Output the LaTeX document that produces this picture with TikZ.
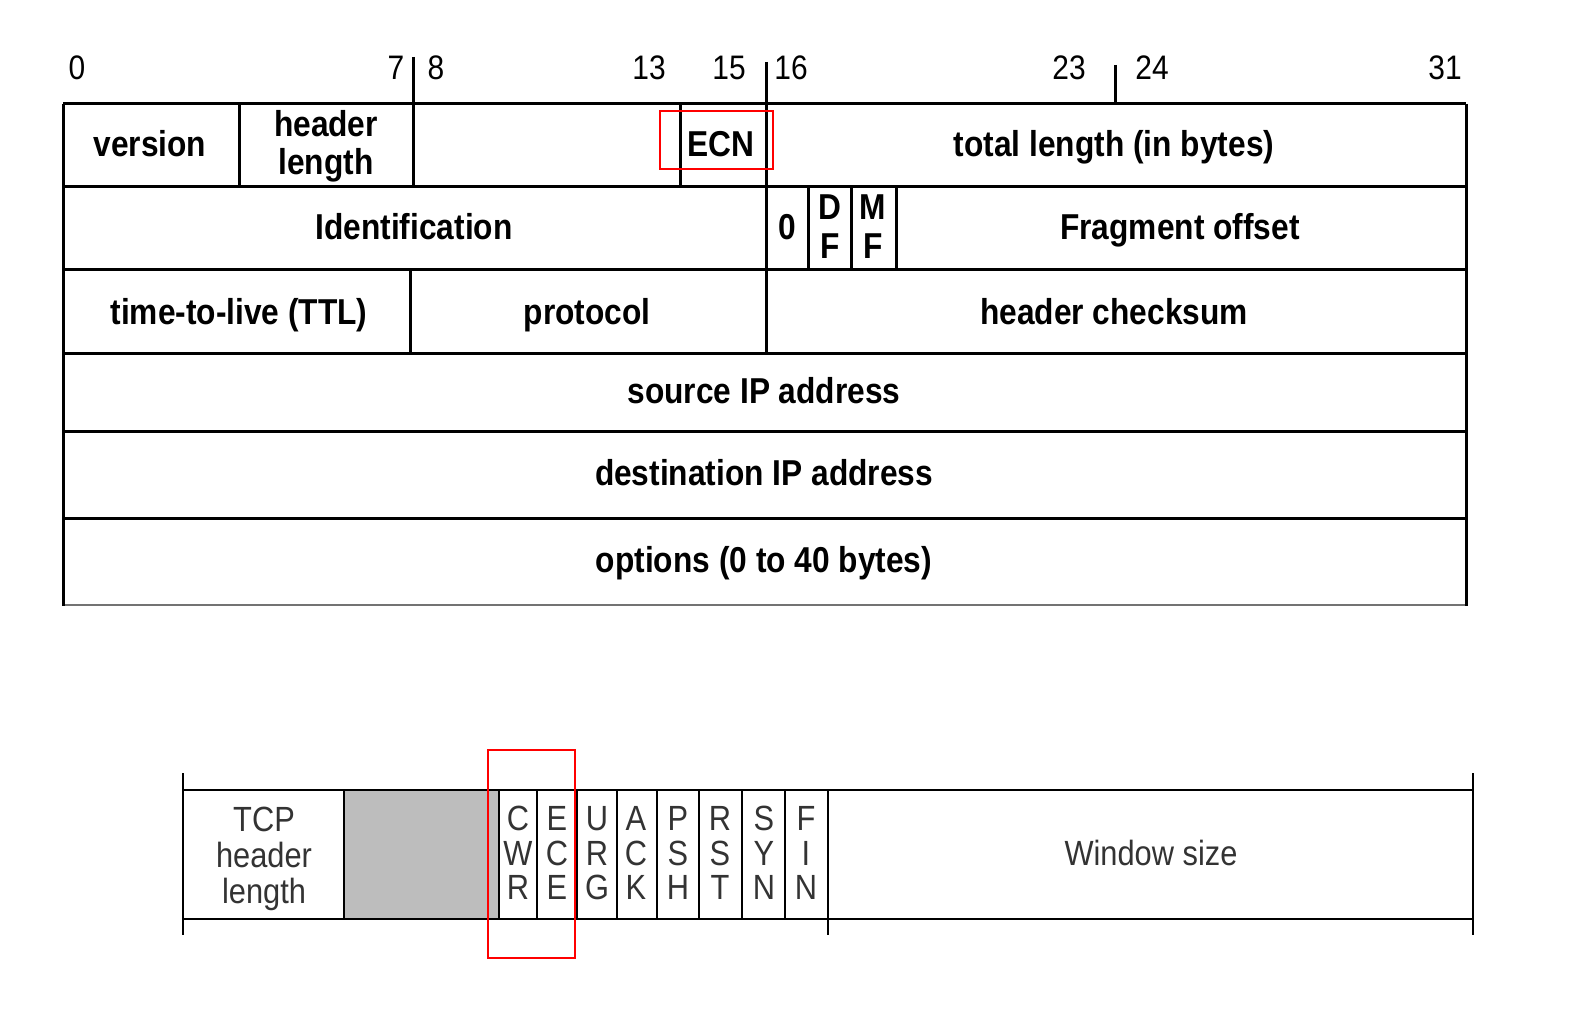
\documentclass[tikz,border=0pt]{standalone}
\usepackage{fontspec}
\setmainfont{Liberation Sans}
\newfontfamily\hdr[FakeStretch=0.88]{Liberation Sans}
\definecolor{cellgrey}{HTML}{BDBDBD}
\definecolor{tcptext}{HTML}{333333}
\begin{document}
\begin{tikzpicture}[x=0.5pt,y=-0.5pt,
  lbl/.style={font=\hdr\bfseries\fontsize{18}{19}\selectfont, inner sep=0pt, text height=13pt, text depth=0pt},
  num/.style={font=\hdr\fontsize{17}{18}\selectfont, inner sep=0pt, text height=12.2pt, text depth=0pt},
  tcp/.style={font=\hdr\fontsize{17.5}{19}\selectfont, text=tcptext, inner sep=0pt, text height=12.5pt, text depth=0pt},
  grid/.style={line width=1.5pt},
  tgrid/.style={line width=1.2pt},
  hl/.style={draw=red, line width=1pt}]
\useasboundingbox (0,0) rectangle (1592,1010);

% ---------- IP header ----------
% bit numbers
\node[num] (n0)  at (77,67)   {0};
\node[num] (n7)  at (396,67)  {7};
\node[num] (n8)  at (436,67)  {8};
\node[num] (n13) at (649,67)  {13};
\node[num] (n15) at (729,67)  {15};
\node[num] (n16) at (791,67)  {16};
\node[num] (n23) at (1069,67) {23};
\node[num] (n24) at (1152,67) {24};
\node[num] (n31) at (1445,67) {31};

% horizontal lines
\draw[grid] (63,104) -- (1466,104);
\draw[grid] (63,187) -- (1466,187);
\draw[grid] (63,270) -- (1466,270);
\draw[grid] (63,354) -- (1466,354);
\draw[grid] (63,432) -- (1466,432);
\draw[grid] (63,519) -- (1466,519);
\draw[line width=1pt, black!55] (63,605) -- (1466,605);
% frame sides
\draw[grid] (63,104) -- (63,606);
\draw[grid] (1466,104) -- (1466,606);
% row 1 verticals and ticks
\draw[grid] (239,104) -- (239,187);
\draw[grid] (413,57) -- (413,187);
\draw[grid] (680,104) -- (680,187);
\draw[grid] (766,62) -- (766,354);
\draw[grid] (1115,65) -- (1115,104);
% row 2 verticals
\draw[grid] (808,187) -- (808,270);
\draw[grid] (851,187) -- (851,270);
\draw[grid] (896,187) -- (896,270);
% row 3 verticals
\draw[grid] (410,270) -- (410,354);

% labels
\node[lbl] (ver)  at (150,144)  {version};
\node[lbl] (hl1)  at (326,124)  {header};
\node[lbl] (hl2)  at (326,162)  {length};
\node[lbl] (ecn)  at (721,144)  {ECN};
\node[lbl] (tot)  at (1114,144) {total length (in bytes)};
\node[lbl] (idf)  at (414,227)  {Identification};
\node[lbl] (zero) at (787,227)  {0};
\node[lbl] (df1)  at (830,207)  {D};
\node[lbl] (df2)  at (830,246)  {F};
\node[lbl] (mf1)  at (873,207)  {M};
\node[lbl] (mf2)  at (873,246)  {F};
\node[lbl] (frag) at (1180,227) {Fragment offset};
\node[lbl] (ttl)  at (239,312)  {time-to-live (TTL)};
\node[lbl] (prot) at (587,312)  {protocol};
\node[lbl] (chk)  at (1114,312) {header checksum};
\node[lbl] (src)  at (764,391)  {source IP address};
\node[lbl] (dst)  at (764,473)  {destination IP address};
\node[lbl] (opt)  at (764,560)  {options (0 to 40 bytes)};

% highlight
\draw[hl] (660,111) rectangle (773,169);

% ---------- TCP flags ----------
\fill[cellgrey] (344,790) rectangle (499,919);
\draw[tgrid] (183,790) -- (1473,790);
\draw[tgrid] (183,919) -- (1473,919);
\draw[tgrid] (183,773) -- (183,935);
\draw[tgrid] (1473,773) -- (1473,935);
\draw[tgrid] (344,790) -- (344,919);
\foreach \xx in {499,537,577,617,657,699,742,785}
  \draw[tgrid] (\xx,790) -- (\xx,919);
\draw[tgrid] (828,790) -- (828,935);

\node[tcp] (t1) at (264,819) {TCP};
\node[tcp] (t2) at (264,855) {header};
\node[tcp] (t3) at (264,891) {length};
\node[tcp] (win) at (1151,853) {Window size};

\foreach \cx/\a/\b/\c/\nm in {518/C/W/R/cwr, 557/E/C/E/ece, 597/U/R/G/urg, 636/A/C/K/ack,
    678/P/S/H/psh, 720/R/S/T/rst, 764/S/Y/N/syn, 806/F/I/N/fin}{
  \node[tcp] (\nm a) at (\cx,818) {\a};
  \node[tcp] (\nm b) at (\cx,853) {\b};
  \node[tcp] (\nm c) at (\cx,887) {\c};
}

\draw[hl] (488,750) rectangle (575,958);
\end{tikzpicture}
\end{document}
